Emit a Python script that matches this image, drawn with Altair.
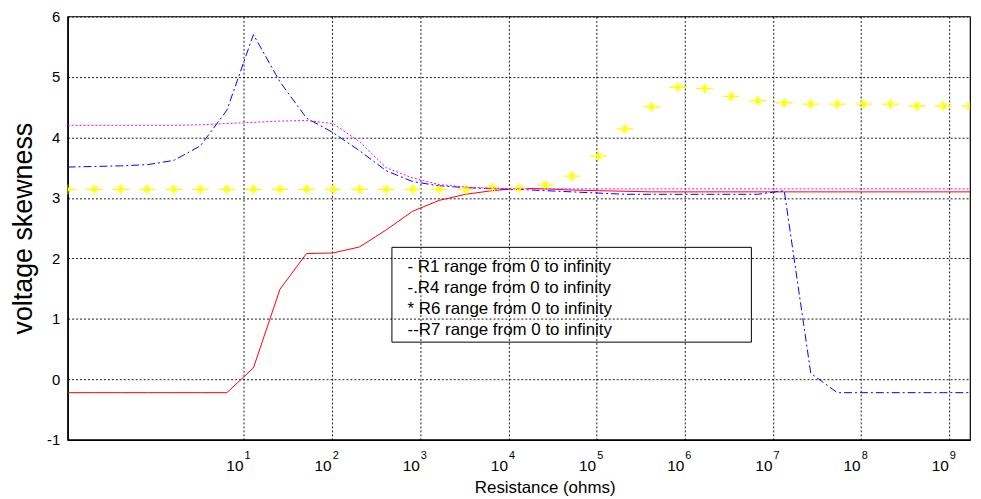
import altair as alt
import pandas as pd

# Resistance values (ohms), each step doubles
resistance = [0.1, 0.2, 0.4, 0.8, 1.6, 3.2, 6.4, 12.8, 25.6, 51.2, 102.4, 204.8,
              409.6, 819.2, 1638.4, 3276.8, 6553.6, 13107.2, 26214.4, 52428.8,
              104857.6, 209715.2, 419430.4, 838860.8, 1677721.6, 3355443.2,
              6710886.4, 13421772.8, 26843545.6, 53687091.2, 107374182.4,
              214748364.8, 429496729.6, 858993459.2, 1717986918.4]

r1 = [-0.22, -0.22, -0.22, -0.22, -0.22, -0.22, -0.22, 0.19, 1.49, 2.08, 2.09, 2.19,
      2.47, 2.78, 2.96, 3.06, 3.12, 3.16, 3.15, 3.13, 3.12, 3.11, 3.10, 3.10, 3.10,
      3.10, 3.10, 3.10, 3.10, 3.10, 3.10, 3.10, 3.10, 3.10, 3.10]

r4 = [3.51, 3.52, 3.53, 3.55, 3.62, 3.86, 4.45, 5.70, 4.92, 4.32, 4.08, 3.78,
      3.45, 3.27, 3.20, 3.17, 3.15, 3.14, 3.12, 3.10, 3.08, 3.06, 3.06, 3.06, 3.06,
      3.06, 3.06, 3.12, 0.10, -0.22, -0.22, -0.22, -0.22, -0.22, -0.22]

r6 = [3.14, 3.14, 3.14, 3.14, 3.14, 3.14, 3.14, 3.14, 3.14, 3.14, 3.14, 3.14,
      3.14, 3.14, 3.14, 3.14, 3.17, 3.16, 3.21, 3.36, 3.69, 4.14, 4.51, 4.83, 4.81,
      4.68, 4.61, 4.57, 4.55, 4.55, 4.55, 4.55, 4.52, 4.52, 4.52]

r7 = [4.20, 4.20, 4.20, 4.20, 4.20, 4.21, 4.23, 4.25, 4.27, 4.28, 4.23, 3.93,
      3.50, 3.33, 3.22, 3.18, 3.16, 3.15, 3.15, 3.15, 3.15, 3.15, 3.15, 3.15, 3.15,
      3.15, 3.15, 3.15, 3.15, 3.15, 3.15, 3.15, 3.15, 3.15, 3.15]

x_ticks = [1e1, 1e2, 1e3, 1e4, 1e5, 1e6, 1e7, 1e8, 1e9]
x_exponents = ["1", "2", "3", "4", "5", "6", "7", "8", "9"]
y_ticks = [-1, 0, 1, 2, 3, 4, 5, 6]

legend_labels = ["- R1 range from 0 to infinity",
                 "-.R4 range from 0 to infinity",
                 "* R6 range from 0 to infinity",
                 "--R7 range from 0 to infinity"]

FONT = "Liberation Sans"
W, H = 908, 426

df = pd.DataFrame({"x": resistance, "r1": r1, "r4": r4, "r6": r6, "r7": r7})
ticks_df = pd.DataFrame({"v": x_ticks, "e": x_exponents})

xscale = alt.Scale(type="log", domain=[resistance[0], resistance[-1]], nice=False)
yscale = alt.Scale(domain=[-1, 6], nice=False)

x_axis = alt.Axis(values=x_ticks, labelExpr="'10'", labelAlign="right", labelOffset=-1,
                  labelBaseline="alphabetic", labelPadding=30.5, labelFontSize=15.5,
                  labelFont=FONT, labelColor="black", ticks=False, tickSize=0,
                  grid=True, gridColor="black", gridDash=[2, 2], gridOpacity=1,
                  gridWidth=0.9, domainColor="black", domainWidth=1.5,
                  title="Resistance (ohms)", titleFont=FONT, titleFontSize=17,
                  titleFontWeight="normal", titleColor="black",
                  titleX=480, titleY=53, titleAlign="center", titleBaseline="alphabetic")
y_axis = alt.Axis(values=y_ticks, labelExpr="'' + datum.value",
                  labelFontSize=15, labelFont=FONT, labelColor="black",
                  labelPadding=8, ticks=False, tickSize=0,
                  grid=True, gridColor="black", gridDash=[2, 2], gridOpacity=1,
                  gridWidth=0.9, domainColor="black", domainWidth=1.5,
                  title="voltage skewness", titleFont=FONT, titleFontSize=27,
                  titleFontWeight="normal", titleColor="black",
                  titleX=-36, titleY=213, titleAngle=270, titleAlign="center",
                  titleBaseline="alphabetic")

base = alt.Chart(df)


def xy(field):
    return dict(x=alt.X("x:Q", scale=xscale, axis=x_axis),
                y=alt.Y(f"{field}:Q", scale=yscale, axis=y_axis))


red = base.mark_line(color="#ff0000", strokeWidth=1, clip=True).encode(**xy("r1"))
blue = base.mark_line(color="#0000ff", strokeWidth=1, strokeDash=[8, 3, 2, 3],
                      clip=True).encode(**xy("r4"))
star_path = "M-1,0L1,0M0,-0.6L0,0.6M-0.35,-0.35L0.35,0.35M-0.35,0.35L0.35,-0.35"
stars = base.mark_point(shape=star_path, filled=False, stroke="#ffff00", strokeWidth=1.3,
                        size=289, opacity=1, clip=True).encode(**xy("r6"))
magenta = base.mark_line(color="#ff00ff", strokeWidth=1, strokeDash=[2, 2],
                         clip=True).encode(**xy("r7"))

sup = alt.Chart(ticks_df).mark_text(align="left", baseline="alphabetic", fontSize=11,
                                    font=FONT, color="black", dx=0.5).encode(
    x=alt.X("v:Q", scale=xscale, axis=x_axis),
    y=alt.value(445),
    text="e:N",
)

one = pd.DataFrame({"a": [0]})
legend_box = alt.Chart(one).mark_rect(fillOpacity=0, stroke="black", strokeWidth=1).encode(
    x=alt.value(326.3), x2=alt.value(688), y=alt.value(232.3), y2=alt.value(327.7)
)
legend_text = alt.Chart(one).mark_text(align="left", baseline="alphabetic", fontSize=17,
                                       font=FONT, color="black", lineHeight=21.2).encode(
    x=alt.value(342), y=alt.value(256.7), text=alt.value(legend_labels)
)

chart = alt.layer(red, blue, stars, magenta, sup, legend_box, legend_text).properties(
    width=W, height=H,
    background="white",
    autosize=alt.AutoSizeParams(type="none"),
    padding={"left": 60, "top": 7, "right": 3, "bottom": 58},
).configure_view(stroke="black", strokeWidth=1.2)

chart.save("out.html", embed_options={"renderer": "svg", "actions": False})
